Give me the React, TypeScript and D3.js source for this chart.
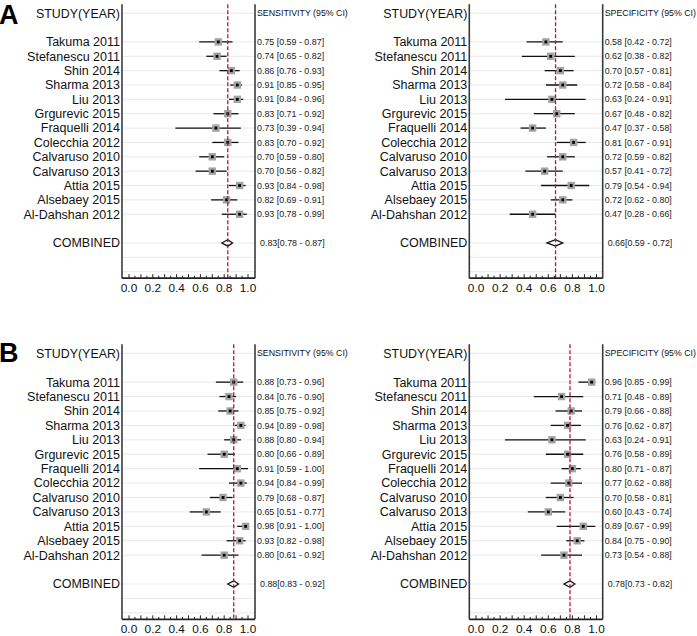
import React from "react";
import * as d3 from "d3";

const studies = [
  "Takuma 2011", "Stefanescu 2011", "Shin 2014", "Sharma 2013", "Liu 2013",
  "Grgurevic 2015", "Fraquelli 2014", "Colecchia 2012", "Calvaruso 2010",
  "Calvaruso 2013", "Attia 2015", "Alsebaey 2015", "Al-Dahshan 2012",
];

const aSensEst = [0.75, 0.74, 0.86, 0.91, 0.91, 0.83, 0.73, 0.83, 0.70, 0.70, 0.93, 0.82, 0.93];
const aSensLo = [0.59, 0.65, 0.76, 0.85, 0.84, 0.71, 0.39, 0.70, 0.59, 0.56, 0.84, 0.69, 0.78];
const aSensHi = [0.87, 0.82, 0.93, 0.95, 0.96, 0.92, 0.94, 0.92, 0.80, 0.82, 0.98, 0.91, 0.99];
const aSensComb = [0.83, 0.78, 0.87];

const aSpecEst = [0.58, 0.62, 0.70, 0.72, 0.63, 0.67, 0.47, 0.81, 0.72, 0.57, 0.79, 0.72, 0.47];
const aSpecLo = [0.42, 0.38, 0.57, 0.58, 0.24, 0.48, 0.37, 0.67, 0.59, 0.41, 0.54, 0.62, 0.28];
const aSpecHi = [0.72, 0.82, 0.81, 0.84, 0.91, 0.82, 0.58, 0.91, 0.82, 0.72, 0.94, 0.80, 0.66];
const aSpecComb = [0.66, 0.59, 0.72];

const bSensEst = [0.88, 0.84, 0.85, 0.94, 0.88, 0.80, 0.91, 0.94, 0.79, 0.65, 0.98, 0.93, 0.80];
const bSensLo = [0.73, 0.76, 0.75, 0.89, 0.80, 0.66, 0.59, 0.84, 0.68, 0.51, 0.91, 0.82, 0.61];
const bSensHi = [0.96, 0.90, 0.92, 0.98, 0.94, 0.89, 1.00, 0.99, 0.87, 0.77, 1.00, 0.98, 0.92];
const bSensComb = [0.88, 0.83, 0.92];

const bSpecEst = [0.96, 0.71, 0.79, 0.76, 0.63, 0.76, 0.80, 0.77, 0.70, 0.60, 0.89, 0.84, 0.73];
const bSpecLo = [0.85, 0.48, 0.66, 0.62, 0.24, 0.58, 0.71, 0.62, 0.58, 0.43, 0.67, 0.75, 0.54];
const bSpecHi = [0.99, 0.89, 0.88, 0.87, 0.91, 0.89, 0.87, 0.88, 0.81, 0.74, 0.99, 0.90, 0.88];
const bSpecComb = [0.78, 0.73, 0.82];

const axisTicks = [0, 0.2, 0.4, 0.6, 0.8, 1.0];
const headerLabel = "STUDY(YEAR)";
const combinedLabel = "COMBINED";

const FONT = "'Liberation Sans', Arial, sans-serif";
const f2 = (v: number) => v.toFixed(2);

type PanelProps = {
  leftLine: number; rightLine: number; x0: number; x1: number; headerY: number;
  step: number; title: string; est: number[]; lo: number[]; hi: number[]; comb: number[];
};

function Panel(p: PanelProps) {
  const x = d3.scaleLinear().domain([0, 1]).range([p.x0, p.x1]);
  const rowY = (i: number) => p.headerY + i * p.step;
  const top = p.headerY - 9;
  const axisY = p.headerY + 18.45 * p.step;
  const gridRows = [0, ...studies.map((_, i) => i + 2), 16, 17, 18];
  const minor = d3.range(0, 21).map((k) => k * 0.05);
  const [cE, cL, cH] = p.comb;
  const cy = rowY(16);
  return (
    <g>
      {gridRows.map((r) => (
        <line key={"g" + r} x1={p.leftLine} x2={p.rightLine} y1={rowY(r)} y2={rowY(r)} stroke="#e6e9ec" strokeWidth={1} />
      ))}
      <text x={p.leftLine - 2} y={rowY(0)} dy="0.35em" textAnchor="end" fontSize={12.4} fontFamily={FONT} fill="#111">{headerLabel}</text>
      <text x={p.rightLine + 2} y={rowY(0)} dy="0.35em" fontSize={8.8} fontFamily={FONT} fill="#111">{p.title}</text>
      {studies.map((s, i) => {
        const y = rowY(i + 2);
        return (
          <g key={s}>
            <text x={p.leftLine - 2} y={y} dy="0.35em" textAnchor="end" fontSize={12.5} fontFamily={FONT} fill="#111">{s}</text>
            <line x1={x(p.lo[i])} x2={x(p.hi[i])} y1={y} y2={y} stroke="#111" strokeWidth={1.3} />
            <rect x={x(p.est[i]) - 3.7} y={y - 3.7} width={7.4} height={7.4} fill="#a3a3a3" />
            <rect x={x(p.est[i]) - 1.4} y={y - 1.4} width={2.8} height={2.8} fill="#000" />
            <text x={p.rightLine + 2} y={y} dy="0.35em" fontSize={8.9} fontFamily={FONT} fill="#222">
              {`${f2(p.est[i])} [${f2(p.lo[i])} - ${f2(p.hi[i])}]`}
            </text>
          </g>
        );
      })}
      <text x={p.leftLine - 2} y={cy} dy="0.35em" textAnchor="end" fontSize={12.5} fontFamily={FONT} fill="#111">{combinedLabel}</text>
      <path d={`M${x(cL)},${cy} L${x(cE)},${cy - 3.2} L${x(cH)},${cy} L${x(cE)},${cy + 3.2} Z`} fill="#fff" stroke="#111" strokeWidth={1.3} />
      <text x={p.rightLine + 5} y={cy} dy="0.35em" fontSize={8.9} fontFamily={FONT} fill="#222">
        {`${f2(cE)}[${f2(cL)} - ${f2(cH)}]`}
      </text>
      <line x1={x(cE)} x2={x(cE)} y1={top} y2={axisY} stroke="#b0183a" strokeWidth={1.3} strokeDasharray="4,2" />
      <line x1={p.leftLine} x2={p.leftLine} y1={top} y2={axisY} stroke="#3a3a3a" strokeWidth={1.6} />
      <line x1={p.rightLine} x2={p.rightLine} y1={top} y2={axisY} stroke="#3a3a3a" strokeWidth={1.6} />
      <line x1={p.leftLine} x2={p.rightLine} y1={axisY} y2={axisY} stroke="#222" strokeWidth={1.6} />
      {minor.map((t, k) => (
        <line key={"t" + k} x1={x(t)} x2={x(t)} y1={axisY} y2={axisY - (k % 2 === 0 ? 4 : 2.5)} stroke="#222" strokeWidth={1} />
      ))}
      {axisTicks.map((t) => (
        <text key={"l" + t} x={x(t)} y={axisY + 9.5} dy="0.35em" textAnchor="middle" fontSize={11.8} fontFamily={FONT} fill="#111">{t.toFixed(1)}</text>
      ))}
    </g>
  );
}

export default function App() {
  const leftCol = { leftLine: 122, rightLine: 255, x0: 129, x1: 248 };
  const rightCol = { leftLine: 469.3, rightLine: 602.7, x0: 476, x1: 596.5 };
  return (
    <svg width={697} height={636} style={{ position: "absolute", left: 0, top: 0, background: "#fff" }}>
      <rect width={697} height={636} fill="#fff" />
      <text x={-1} y={24} fontSize={27} fontWeight="bold" fontFamily={FONT} fill="#000">A</text>
      <text x={-1} y={362} fontSize={27} fontWeight="bold" fontFamily={FONT} fill="#000">B</text>
      <Panel {...leftCol} headerY={13.2} step={14.36} title="SENSITIVITY (95% CI)" est={aSensEst} lo={aSensLo} hi={aSensHi} comb={aSensComb} />
      <Panel {...rightCol} headerY={13.2} step={14.36} title="SPECIFICITY (95% CI)" est={aSpecEst} lo={aSpecLo} hi={aSpecHi} comb={aSpecComb} />
      <Panel {...leftCol} headerY={353.3} step={14.42} title="SENSITIVITY (95% CI)" est={bSensEst} lo={bSensLo} hi={bSensHi} comb={bSensComb} />
      <Panel {...rightCol} headerY={353.3} step={14.42} title="SPECIFICITY (95% CI)" est={bSpecEst} lo={bSpecLo} hi={bSpecHi} comb={bSpecComb} />
    </svg>
  );
}
